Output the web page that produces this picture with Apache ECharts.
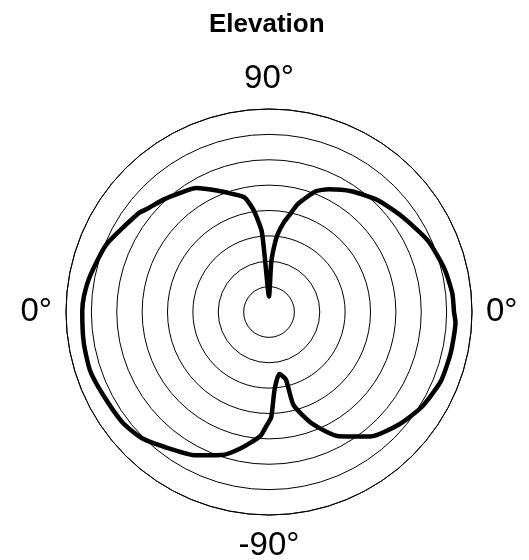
<!DOCTYPE html>
<html>
<head>
<meta charset="utf-8">
<title>Elevation</title>
<script src="https://cdn.jsdelivr.net/npm/echarts@6/dist/echarts.min.js"></script>
<style>
  html, body { margin: 0; padding: 0; background: #fff; }
  #chart { width: 529px; height: 560px; }
</style>
</head>
<body>
<div id="chart"></div>
<script>
  // pattern: angle in degrees (0 = right, 90 = up), radius in ring units
  var angles = [0, 5.9, 13.8, 24.0, 35.4, 46.1, 55.7, 64.0, 68.7, 73.0, 75.4, 77.6, 80.5, 83.7, 85.3, 87.4, 90,
                94.4, 95.2, 98.6, 102.1, 107.8, 112.7, 120.4, 126.9, 133.0, 139.5, 143.0, 157.5, 168.5, 175.2,
                180, 189.5, 198.1, 206.5, 217.0, 224.7, 232.1, 243.0, 251.7, 258.3, 265.9, 268.7,
                271.2, 274.1, 279.4, 284.0, 284.8, 291.4, 299.2, 309.2, 319.3, 328.2, 338.1,
                347.2, 356.8, 360];
  var radii = [7.29, 7.26, 7.12, 6.87, 6.46, 6.14, 5.76, 5.38, 5.11, 4.63, 4.36, 3.97, 3.59, 3.08, 2.66, 1.98, 0.61,
               2.12, 3.21, 4.06, 4.62, 4.90, 5.18, 5.66, 5.86, 6.07, 6.28, 6.45, 6.94, 7.19, 7.32,
               7.36, 7.40, 7.42, 7.31, 7.23, 7.06, 6.73, 6.34, 5.94, 5.48, 4.91, 4.49,
               4.15, 3.07, 2.48, 2.73, 3.80, 4.75, 5.61, 6.33, 6.78, 7.09, 7.30,
               7.34, 7.36, 7.29];
  var ringMax = 8;
  var tickAngles = [0, 90, 180, 270];
  var tickLabels = ['0°', '90°', '0°', '-90°'];

  var pattern = angles.map(function (a, i) { return [radii[i], a]; });

  var myChart = echarts.init(document.getElementById('chart'));
  var option = {
    backgroundColor: '#fff',
    animation: false,
    title: {
      text: 'Elevation',
      left: 204,
      top: 7,
      textStyle: { fontFamily: 'Liberation Sans, Arial, sans-serif', fontWeight: 'bold', fontSize: 26, color: '#000' }
    },
    polar: { center: [269, 312], radius: 203 },
    angleAxis: {
      type: 'value',
      min: 0,
      max: 360,
      interval: 90,
      startAngle: 0,
      clockwise: false,
      axisLine: { show: true, lineStyle: { color: '#000', width: 1 } },
      axisTick: { show: false },
      splitLine: { show: false },
      axisLabel: {
        margin: 14,
        fontFamily: 'Liberation Sans, Arial, sans-serif',
        fontSize: 33,
        color: '#000',
        formatter: function (v) {
          var i = tickAngles.indexOf(v);
          return i >= 0 ? tickLabels[i] : '';
        }
      }
    },
    radiusAxis: {
      type: 'value',
      min: 0,
      max: ringMax,
      interval: 1,
      axisLine: { show: false },
      axisTick: { show: false },
      axisLabel: { show: false },
      splitLine: { show: true, lineStyle: { color: '#000', width: 1 } }
    },
    series: [
      {
        type: 'line',
        coordinateSystem: 'polar',
        data: pattern,
        showSymbol: false,
        symbol: 'none',
        smooth: 0.2,
        lineStyle: { color: '#000', width: 4.5, join: 'round', cap: 'round' }
      }
    ]
  };
  myChart.setOption(option);
</script>
</body>
</html>
